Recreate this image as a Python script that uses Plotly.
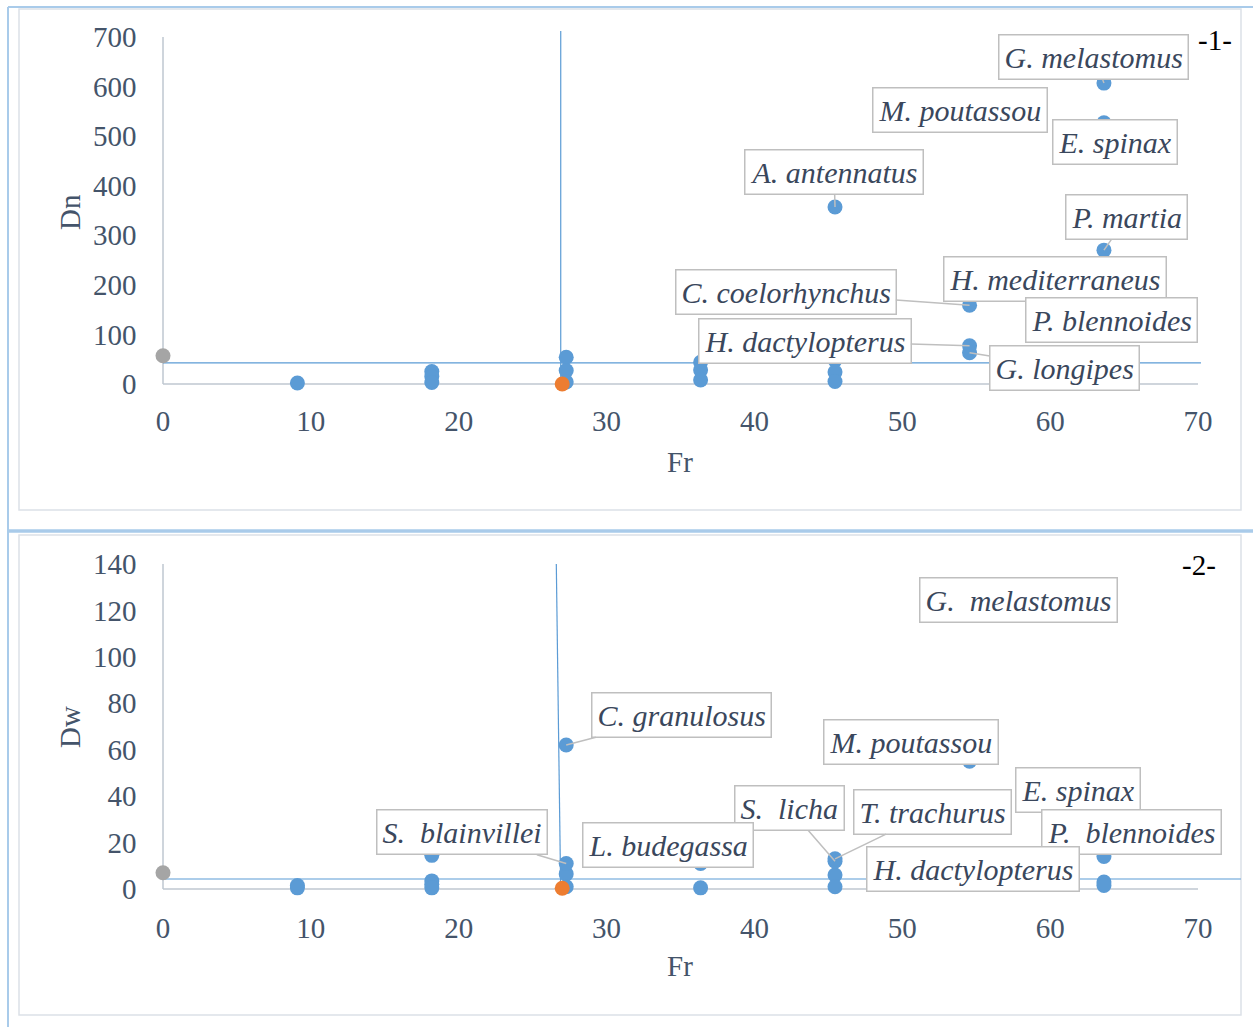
import plotly.graph_objects as go

W, H = 1253, 1027

# ---------------- data: panel 1 (Dn vs Fr) ----------------
fr_dn_other = [9.09, 18.18, 18.18, 18.18, 27.27, 27.27, 27.27, 36.36, 36.36, 36.36, 45.45, 45.45, 45.45]
dn_other = [2, 25, 15, 3, 54, 27, 4, 44, 28, 8, 48, 24, 5]
species_dn = ["G. melastomus", "M. poutassou", "E. spinax", "A. antennatus", "P. martia",
              "H. mediterraneus", "C. coelorhynchus", "P. blennoides", "H. dactylopterus", "G. longipes"]
fr_dn_species = [63.64, 54.55, 63.64, 45.45, 63.64, 63.64, 54.55, 63.64, 54.55, 54.55]
dn_species = [607, 570, 527, 357, 270, 200, 159, 99, 77, 63]
mean_vline_dn_x = [26.9, 26.9]
mean_vline_dn_y = [0, 712]
mean_hline_dn_x = [0, 70.2]
mean_hline_dn_y = [42.5, 42.5]
orange_dn = (27.0, 0)
gray_dn = (0, 57)

# ---------------- data: panel 2 (Dw vs Fr) ----------------
fr_dw_other = [9.09, 9.09, 18.18, 18.18, 18.18, 18.18, 27.27, 27.27, 36.36, 45.45, 45.45, 63.64, 63.64]
dw_other = [1.5, 0.5, 14.5, 3.5, 2, 0.5, 6.5, 1, 0.5, 6, 1, 3, 1.5]
species_dw = ["G.\u00a0 melastomus", "C. granulosus", "M. poutassou", "E. spinax", "S.\u00a0 licha",
              "T. trachurus", "S.\u00a0 blainvillei", "L. budegassa", "P.\u00a0 blennoides", "H. dactylopterus"]
fr_dw_species = [63.64, 27.27, 54.55, 63.64, 45.45, 45.45, 27.27, 36.36, 63.64, 54.55]
dw_species = [125, 62, 55, 43, 12, 13, 11, 11, 14, 8.5]
mean_vline_dw_x = [26.6, 26.9]
mean_vline_dw_y = [140, -2.6]
mean_hline_dw_x = [0, 72.9]
mean_hline_dw_y = [4.3, 4.3]
orange_dw = (27.0, 0.3)
gray_dw = (0, 7)

fr_ticks = [0, 10, 20, 30, 40, 50, 60, 70]
dn_ticks = [0, 100, 200, 300, 400, 500, 600, 700]
dw_ticks = [0, 20, 40, 60, 80, 100, 120, 140]

# ---------------- label placement (pixel offsets from point to box centre) ----------------
place_dn = [(-10, -26, True), (-10, 9, False), (11, 19, False), (-1, -35, True), (23, -33, True),
            (-49, -6, False), (-184, -13, True), (8, -15, False), (-165, -5, True), (95, 15, True)]
place_dw = [(-85, 1, False), (115, -30, True), (-59, -19, False), (-26, 1, False), (-46, -53, True),
            (97, -47, True), (-104, -31, True), (-33, -18, False), (28, -24, False), (3, 0, False)]

# ---------------- styles ----------------
BLUE = "#5B9BD5"
ORANGE = "#ED7D31"
GREY_PT = "#A5A5A5"
TICK_COL = "#44546A"
LABEL_COL = "#3A475C"
FONT = "Liberation Serif"
FS = 29
FS_LABEL = 30
MS = 15

# pixel geometry of the two plot areas
X0_PX, PX_PER_FR = 163, (1198 - 163) / 70
XR = [-1, 73]
TOP_Y0_PX, TOP_PPU = 384, (384 - 37) / 700
TOP_YR = [-10, 714]
BOT_Y0_PX, BOT_PPU = 889, (889 - 564) / 140
BOT_YR = [-3, 141]

x_dom = [(X0_PX + XR[0] * PX_PER_FR) / W, (X0_PX + XR[1] * PX_PER_FR) / W]
top_dom = [1 - (TOP_Y0_PX - TOP_YR[0] * TOP_PPU) / H, 1 - (TOP_Y0_PX - TOP_YR[1] * TOP_PPU) / H]
bot_dom = [1 - (BOT_Y0_PX - BOT_YR[0] * BOT_PPU) / H, 1 - (BOT_Y0_PX - BOT_YR[1] * BOT_PPU) / H]

fig = go.Figure()


def add_panel(xa, ya, vx, vy, hx, hy, fro, vo, frs, vs, orange, gray):
    fig.add_trace(go.Scatter(x=vx, y=vy, mode="lines", line=dict(color=BLUE, width=1.2),
                             xaxis=xa, yaxis=ya, hoverinfo="skip"))
    fig.add_trace(go.Scatter(x=hx, y=hy, mode="lines", line=dict(color=BLUE, width=1.2),
                             xaxis=xa, yaxis=ya, hoverinfo="skip"))
    fig.add_trace(go.Scatter(x=fro + frs, y=vo + vs, mode="markers",
                             marker=dict(color=BLUE, size=MS, line=dict(width=0)),
                             xaxis=xa, yaxis=ya, cliponaxis=False))
    fig.add_trace(go.Scatter(x=[orange[0]], y=[orange[1]], mode="markers",
                             marker=dict(color=ORANGE, size=MS, line=dict(width=0)),
                             xaxis=xa, yaxis=ya, cliponaxis=False))
    fig.add_trace(go.Scatter(x=[gray[0]], y=[gray[1]], mode="markers",
                             marker=dict(color=GREY_PT, size=MS, line=dict(width=0)),
                             xaxis=xa, yaxis=ya, cliponaxis=False))


add_panel("x", "y", mean_vline_dn_x, mean_vline_dn_y, mean_hline_dn_x, mean_hline_dn_y,
          fr_dn_other, dn_other, fr_dn_species, dn_species, orange_dn, gray_dn)
add_panel("x2", "y2", mean_vline_dw_x, mean_vline_dw_y, mean_hline_dw_x, mean_hline_dw_y,
          fr_dw_other, dw_other, fr_dw_species, dw_species, orange_dw, gray_dw)

annotations = []


def add_labels(names, xs, ys, places, xref, yref):
    for name, x, y, (dx, dy, arrow) in zip(names, xs, ys, places):
        common = dict(x=x, y=y, xref=xref, yref=yref, text=name,
                      font=dict(family=FONT, size=FS_LABEL, color=LABEL_COL, style="italic"),
                      bgcolor="white", bordercolor="#BFBFBF", borderwidth=1.5, borderpad=5)
        if arrow:
            annotations.append(dict(showarrow=True, ax=dx, ay=dy, arrowhead=0, arrowwidth=1.5,
                                    arrowcolor="#BFBFBF", standoff=0, **common))
        else:
            annotations.append(dict(showarrow=False, xshift=dx, yshift=-dy,
                                    xanchor="center", yanchor="middle", **common))


add_labels(species_dn, fr_dn_species, dn_species, place_dn, "x", "y")
add_labels(species_dw, fr_dw_species, dw_species, place_dw, "x2", "y2")


def px_ann(text, px, py, angle=0, color=TICK_COL):
    annotations.append(dict(text=text, x=px / W, y=1 - py / H, xref="paper", yref="paper",
                            showarrow=False, textangle=angle, xanchor="center", yanchor="middle",
                            font=dict(family=FONT, size=FS, color=color)))


px_ann("Dn", 70, 212, -90)
px_ann("Fr", 680, 462)
px_ann("Dw", 70, 727, -90)
px_ann("Fr", 680, 966)
px_ann("-1-", 1215, 40, color="black")
px_ann("-2-", 1199, 565, color="black")

AXIS_LINE = "#BFC7D1"
shapes = [
    dict(type="line", xref="x", yref="y", x0=0, x1=70, y0=0, y1=0, line=dict(color=AXIS_LINE, width=1.5), layer="below"),
    dict(type="line", xref="x", yref="y", x0=0, x1=0, y0=0, y1=700, line=dict(color=AXIS_LINE, width=1.5), layer="below"),
    dict(type="line", xref="x2", yref="y2", x0=0, x1=70, y0=0, y1=0, line=dict(color=AXIS_LINE, width=1.5), layer="below"),
    dict(type="line", xref="x2", yref="y2", x0=0, x1=0, y0=0, y1=140, line=dict(color=AXIS_LINE, width=1.5), layer="below"),
]


def pline(x0, y0, x1, y1, color, width):
    shapes.append(dict(type="line", xref="paper", yref="paper", x0=x0 / W, x1=x1 / W,
                       y0=1 - y0 / H, y1=1 - y1 / H, line=dict(color=color, width=width), layer="below"))


def prect(x0, y0, x1, y1, color, width):
    shapes.append(dict(type="rect", xref="paper", yref="paper", x0=x0 / W, x1=x1 / W,
                       y0=1 - y0 / H, y1=1 - y1 / H, line=dict(color=color, width=width), layer="below"))


prect(19, 9, 1241, 510, "#DCE1E8", 1.5)
prect(19, 535, 1241, 1015, "#DCE1E8", 1.5)
pline(8, 7, 8, 1027, "#A9CBEA", 2)
pline(8, 7, 1253, 7, "#A9CBEA", 2)
pline(8, 531, 1253, 531, "#A9CBEA", 3.5)

tickfont = dict(family=FONT, size=FS, color=TICK_COL)
xaxis_common = dict(range=XR, tickvals=fr_ticks, showgrid=False, zeroline=False, showline=False,
                    ticks="outside", ticklen=6, tickcolor="rgba(0,0,0,0)", tickfont=tickfont,
                    domain=x_dom, fixedrange=True, automargin=False)
yaxis_common = dict(showgrid=False, zeroline=False, showline=False, ticks="outside", ticklen=5,
                    tickcolor="rgba(0,0,0,0)", tickfont=tickfont, fixedrange=True, automargin=False)

fig.update_layout(
    width=W, height=H, autosize=False,
    margin=dict(l=0, r=0, t=0, b=0, pad=0),
    paper_bgcolor="white", plot_bgcolor="rgba(0,0,0,0)",
    showlegend=False,
    xaxis=dict(anchor="y", **xaxis_common),
    yaxis=dict(anchor="x", range=TOP_YR, tickvals=dn_ticks, domain=top_dom, **yaxis_common),
    xaxis2=dict(anchor="y2", **xaxis_common),
    yaxis2=dict(anchor="x2", range=BOT_YR, tickvals=dw_ticks, domain=bot_dom, **yaxis_common),
    annotations=annotations,
    shapes=shapes,
)

fig.write_html(
    "out.html",
    config={"displayModeBar": False},
    post_script="document.body.style.margin='0';document.body.style.padding='0';"
                "document.body.style.overflow='hidden';",
)
